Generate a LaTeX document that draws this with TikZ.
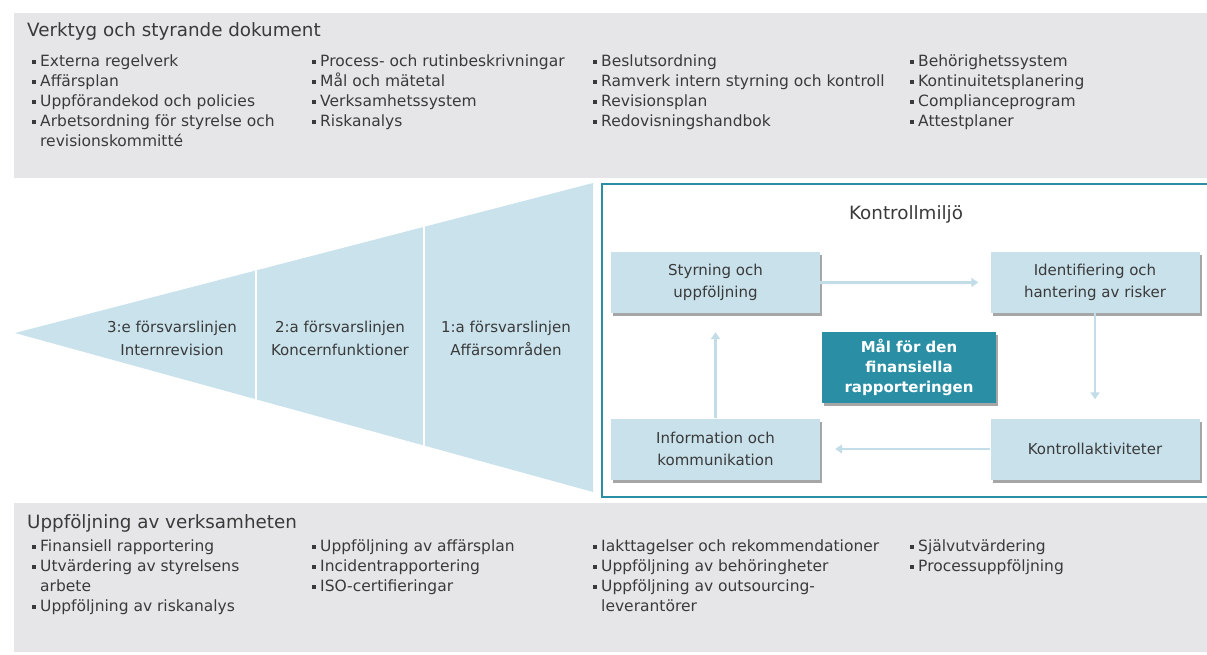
\documentclass[tikz,border=0pt]{standalone}
\usepackage{fontspec}
\setmainfont{DejaVu Sans}
\usetikzlibrary{arrows.meta,shadows}
\definecolor{bandc}{HTML}{E6E6E8}
\definecolor{tric}{HTML}{C9E2EC}
\definecolor{boxc}{HTML}{C8E1EB}
\definecolor{tealc}{HTML}{2A8FA5}
\definecolor{txtc}{HTML}{3A3A3A}
\definecolor{arrc}{HTML}{C2DDE8}
\newcommand\bul{\makebox[8pt][l]{\raisebox{3.3pt}{\rule{3.8pt}{3.8pt}}}}
\newcommand\ind{\hspace*{8pt}}
\begin{document}
\begin{tikzpicture}[x=1pt,y=-1pt,
  bandtitle/.style={font=\fontsize{18.3}{22}\selectfont, text=txtc, inner sep=0, anchor=base west},
  col/.style={font=\fontsize{15.5}{20}\selectfont, text=txtc, inner sep=0, anchor=north west, align=left},
  trilabel/.style={font=\fontsize{15}{23}\selectfont, text=txtc, inner sep=0, align=center},
  inbox/.style={fill=boxc, minimum width=209pt, minimum height=61pt, inner sep=0, align=center,
     font=\fontsize{15}{22}\selectfont, text=txtc,
     drop shadow={shadow xshift=2pt, shadow yshift=-3pt, fill=black, opacity=0.35}},
  goalbox/.style={fill=tealc, minimum width=174pt, minimum height=71pt, inner sep=0, align=center,
     font=\fontsize{15}{20}\selectfont\bfseries, text=white,
     drop shadow={shadow xshift=2pt, shadow yshift=-3pt, fill=black, opacity=0.35}},
  kbox/.style={draw=tealc, line width=2pt, minimum width=620pt, minimum height=313pt, inner sep=0, anchor=north west},
  arr/.style={draw=arrc, line width=2.8pt, -{Triangle[length=7pt,width=9pt]}}
]
\useasboundingbox (0,0) rectangle (1207,655);
\clip (0,0) rectangle (1207,655);

% bands
\fill[bandc] (14,13) rectangle (1210,178);
\fill[bandc] (14,503) rectangle (1210,652);

% top band text
\node[bandtitle] (ttitle) at (27,37) {Verktyg och styrande dokument};
\node[col] (tc1) at (32,55) {\bul Externa regelverk\\\bul Affärsplan\\\bul Uppförandekod och policies\\\bul Arbetsordning för styrelse och\\\ind revisionskommitté};
\node[col] (tc2) at (312,55) {\bul Process- och rutinbeskrivningar\\\bul Mål och mätetal\\\bul Verksamhetssystem\\\bul Riskanalys};
\node[col] (tc3) at (593,55) {\bul Beslutsordning\\\bul Ramverk intern styrning och kontroll\\\bul Revisionsplan\\\bul Redovisningshandbok};
\node[col] (tc4) at (910,55) {\bul Behörighetssystem\\\bul Kontinuitetsplanering\\\bul Complianceprogram\\\bul Attestplaner};

% bottom band text
\node[bandtitle] (btitle) at (27,528) {Uppföljning av verksamheten};
\node[col] (bc1) at (32,540) {\bul Finansiell rapportering\\\bul Utvärdering av styrelsens\\\ind arbete\\\bul Uppföljning av riskanalys};
\node[col] (bc2) at (312,540) {\bul Uppföljning av affärsplan\\\bul Incidentrapportering\\\bul ISO-certifieringar};
\node[col] (bc3) at (593,540) {\bul Iakttagelser och rekommendationer\\\bul Uppföljning av behöringheter\\\bul Uppföljning av outsourcing-\\\ind leverantörer};
\node[col] (bc4) at (910,540) {\bul Självutvärdering\\\bul Processuppföljning};

% triangle of lines of defence
\coordinate (apex) at (15,333);
\coordinate (trc) at (593,183);
\coordinate (brc) at (593,492);
\fill[tric] (apex) -- (trc) -- (brc) -- cycle;
\begin{scope}
  \clip (apex) -- (trc) -- (brc) -- cycle;
  \draw[white, line width=2.5pt] (256,150) -- (256,520);
  \draw[white, line width=2.5pt] (424,150) -- (424,520);
\end{scope}
\node[trilabel] (l3) at (172,338.5) {3:e försvarslinjen\\Internrevision};
\node[trilabel] (l2) at (340,338.5) {2:a försvarslinjen\\Koncernfunktioner};
\node[trilabel] (l1) at (506,338.5) {1:a försvarslinjen\\Affärsområden};

% control environment
\node[kbox] (kbox) at (601,183) {};
\node[bandtitle, anchor=base] (ktitle) at (906,219) {Kontrollmiljö};

\node[inbox] (styr) at (715.5,282.5) {Styrning och\\uppföljning};
\node[inbox] (ident) at (1095,282.5) {Identifiering och\\hantering av risker};
\node[inbox] (info) at (715.5,449) {Information och\\kommunikation};
\node[inbox] (kontr) at (1095,449) {Kontrollaktiviteter};
\node[goalbox] (goal) at (909,367.5) {Mål för den\\finansiella\\rapporteringen};

\draw[arr, shorten >=12pt] (styr.east) -- (ident.west);
\draw[arr, shorten >=19pt] (ident.south) -- (kontr.north);
\draw[arr, shorten >=15pt] (kontr.west) -- (info.east);
\draw[arr, shorten >=19pt] (info.north) -- (styr.south);
\end{tikzpicture}
\end{document}
